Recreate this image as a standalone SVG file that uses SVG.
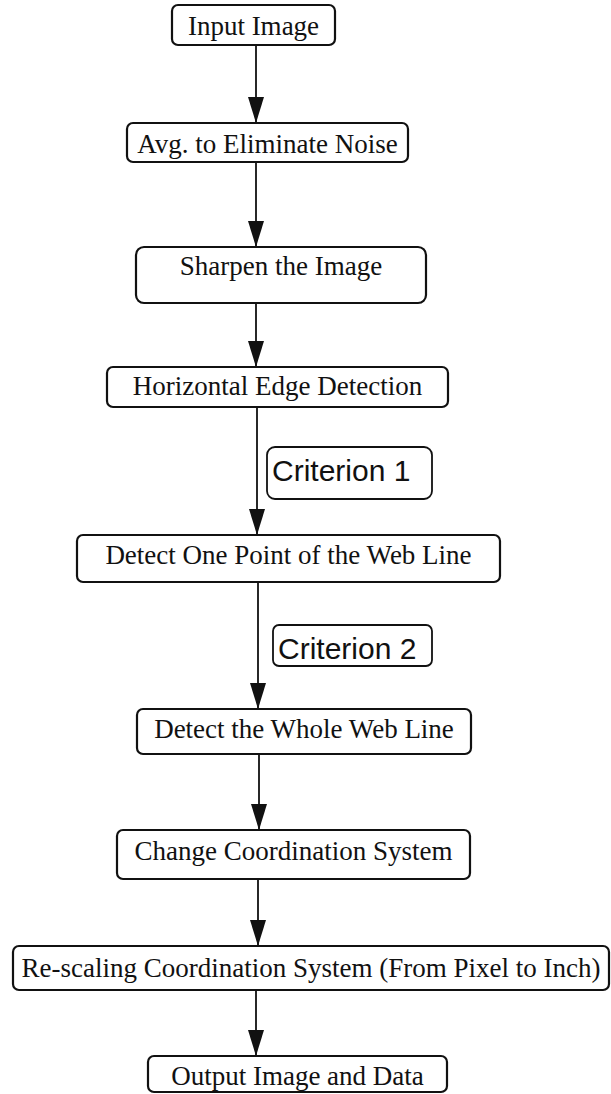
<svg xmlns="http://www.w3.org/2000/svg" width="611" height="1094" viewBox="0 0 611 1094">
  <style>
    .box { fill: #ffffff; stroke: #111111; stroke-width: 2.2; }
    .tag { fill: #ffffff; stroke: #111111; stroke-width: 1.8; }
    .lbl { font-family: "Liberation Serif", "Times New Roman", serif; font-size: 27px; fill: #111111; text-anchor: middle; }
    .crit { font-family: "Liberation Sans", Arial, sans-serif; font-size: 30px; fill: #111111; }
    .edge { fill: none; stroke: #111111; stroke-width: 1.8; marker-end: url(#arrow); }
  </style>
  <defs>
    <marker id="arrow" viewBox="0 0 26 16" refX="26" refY="8" markerWidth="26" markerHeight="16" markerUnits="userSpaceOnUse" orient="auto">
      <path d="M0,0 L26,8 L0,16 Z" fill="#111111"/>
    </marker>
  </defs>
  <rect width="611" height="1094" fill="#ffffff"/>

  <!-- connectors -->
  <g id="connectors">
    <line class="edge" x1="256" y1="45" x2="256" y2="123"/>
    <line class="edge" x1="256" y1="162" x2="256" y2="247"/>
    <line class="edge" x1="256" y1="303" x2="256" y2="367"/>
    <line class="edge" x1="257" y1="407" x2="257" y2="535"/>
    <line class="edge" x1="258" y1="582" x2="258" y2="709"/>
    <line class="edge" x1="259" y1="754" x2="259" y2="830"/>
    <line class="edge" x1="258" y1="879" x2="258" y2="946"/>
    <line class="edge" x1="256" y1="990" x2="256" y2="1056"/>
  </g>

  <g id="input-image">
    <rect class="box" x="172" y="5" width="163" height="40" rx="6"/>
    <text class="lbl" x="253.5" y="35">Input Image</text>
  </g>

  <g id="avg-noise">
    <rect class="box" x="127" y="123" width="281" height="39" rx="6"/>
    <text class="lbl" x="267.5" y="153">Avg. to Eliminate Noise</text>
  </g>

  <g id="sharpen">
    <rect class="box" x="136" y="247" width="290" height="56" rx="8"/>
    <text class="lbl" x="281" y="275">Sharpen the Image</text>
  </g>

  <g id="edge-detection">
    <rect class="box" x="107" y="367" width="341" height="40" rx="6"/>
    <text class="lbl" x="277.5" y="395">Horizontal Edge Detection</text>
  </g>

  <g id="criterion-1">
    <rect class="tag" x="267" y="447" width="165" height="52" rx="8"/>
    <text class="crit" x="272" y="481">Criterion 1</text>
  </g>

  <g id="detect-point">
    <rect class="box" x="77" y="535" width="423" height="47" rx="6"/>
    <text class="lbl" x="288.5" y="564">Detect One Point of the Web Line</text>
  </g>

  <g id="criterion-2">
    <rect class="tag" x="273" y="625" width="159" height="41" rx="6"/>
    <text class="crit" x="278" y="659">Criterion 2</text>
  </g>

  <g id="detect-line">
    <rect class="box" x="137" y="709" width="334" height="45" rx="6"/>
    <text class="lbl" x="304" y="738">Detect the Whole Web Line</text>
  </g>

  <g id="change-coords">
    <rect class="box" x="117" y="830" width="353" height="49" rx="6"/>
    <text class="lbl" x="293.5" y="860">Change Coordination System</text>
  </g>

  <g id="rescale">
    <rect class="box" x="13" y="946" width="596" height="44" rx="6"/>
    <text class="lbl" x="311" y="977">Re-scaling Coordination System (From Pixel to Inch)</text>
  </g>

  <g id="output">
    <rect class="box" x="148" y="1056" width="299" height="36" rx="6"/>
    <text class="lbl" x="297.5" y="1085">Output Image and Data</text>
  </g>
</svg>
